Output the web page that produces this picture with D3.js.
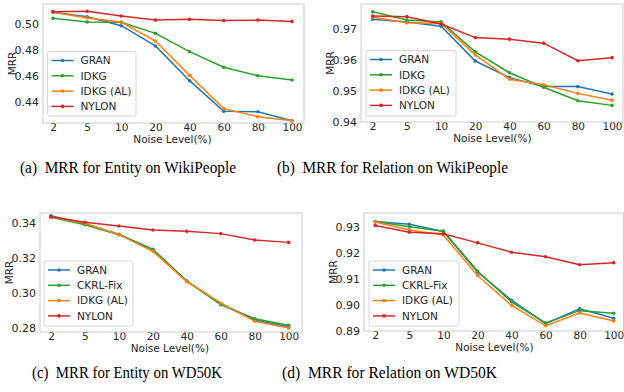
<!DOCTYPE html>
<html>
<head>
<meta charset="utf-8">
<script src="https://cdn.jsdelivr.net/npm/d3@7"></script>
<style>
  body { margin: 0; background: #fff; }
  svg { display: block; }
  .tick text { font-family: "DejaVu Sans", sans-serif; }
  .caption { white-space: pre; }
</style>
</head>
<body>
<div id="chart"></div>
<script>
// x categories shared by all four panels
const noiseLevels = ["2", "5", "10", "20", "40", "60", "80", "100"];

// (a) MRR for Entity on WikiPeople
const entWikiGRAN  = [0.5090, 0.5056, 0.4987, 0.4831, 0.4564, 0.4328, 0.4325, 0.4256];
const entWikiIDKG  = [0.5044, 0.5015, 0.5013, 0.4928, 0.4787, 0.4667, 0.4602, 0.4569];
const entWikiAL    = [0.5090, 0.5046, 0.5015, 0.4869, 0.4605, 0.4349, 0.4287, 0.4256];
const entWikiNYLON = [0.5095, 0.5098, 0.5062, 0.5030, 0.5036, 0.5026, 0.5030, 0.5020];

// (b) MRR for Relation on WikiPeople
const relWikiGRAN  = [0.9733, 0.9724, 0.9710, 0.9597, 0.9543, 0.9514, 0.9514, 0.9490];
const relWikiIDKG  = [0.9757, 0.9730, 0.9724, 0.9627, 0.9559, 0.9512, 0.9468, 0.9453];
const relWikiAL    = [0.9739, 0.9721, 0.9719, 0.9617, 0.9538, 0.9520, 0.9492, 0.9470];
const relWikiNYLON = [0.9743, 0.9741, 0.9717, 0.9673, 0.9668, 0.9655, 0.9598, 0.9608];

// (c) MRR for Entity on WD50K
const entWdGRAN  = [0.3443, 0.3396, 0.3337, 0.3249, 0.3070, 0.2939, 0.2847, 0.2809];
const entWdCKRL  = [0.3434, 0.3392, 0.3335, 0.3251, 0.3070, 0.2935, 0.2855, 0.2817];
const entWdAL    = [0.3436, 0.3400, 0.3335, 0.3240, 0.3066, 0.2945, 0.2840, 0.2802];
const entWdNYLON = [0.3438, 0.3406, 0.3385, 0.3362, 0.3354, 0.3341, 0.3305, 0.3291];

// (d) MRR for Relation on WD50K
const relWdGRAN  = [0.9320, 0.9309, 0.9282, 0.9126, 0.9018, 0.8928, 0.8985, 0.8949];
const relWdCKRL  = [0.9320, 0.9300, 0.9283, 0.9130, 0.9012, 0.8931, 0.8978, 0.8968];
const relWdAL    = [0.9318, 0.9287, 0.9268, 0.9113, 0.8998, 0.8920, 0.8969, 0.8938];
const relWdNYLON = [0.9305, 0.9279, 0.9273, 0.9238, 0.9202, 0.9185, 0.9154, 0.9162];

const blue = "#1f77b4", orange = "#ff7f0e", green = "#2ca02c", red = "#d62728";

// panel layout, pixel boxes
const panels = [
  { caption: "(a)  MRR for Entity on WikiPeople", capX: 20, capY: 173.3, capW: 216,
    box: [43, 4, 304, 123], xr: [53, 292], yd: [0.44, 0.50], yr: [102, 24],
    yticks: [0.44, 0.46, 0.48, 0.50], legend: [47.5, 51.5, 136, 116],
    series: [["GRAN", entWikiGRAN, blue], ["IDKG", entWikiIDKG, green],
             ["IDKG (AL)", entWikiAL, orange], ["NYLON", entWikiNYLON, red]] },
  { caption: "(b)  MRR for Relation on WikiPeople", capX: 277, capY: 173.3, capW: 231,
    box: [361, 4, 623, 122], xr: [372.7, 612], yd: [0.94, 0.97], yr: [121.7, 29.3],
    yticks: [0.94, 0.95, 0.96, 0.97], legend: [366, 50.5, 456, 116],
    series: [["GRAN", relWikiGRAN, blue], ["IDKG", relWikiIDKG, green],
             ["IDKG (AL)", relWikiAL, orange], ["NYLON", relWikiNYLON, red]] },
  { caption: "(c)  MRR for Entity on WD50K", capX: 32, capY: 378.3, capW: 190,
    box: [40, 213, 302, 332], xr: [51, 288.7], yd: [0.28, 0.34], yr: [328.3, 223.3],
    yticks: [0.28, 0.30, 0.32, 0.34], legend: [44, 261, 133, 326],
    series: [["GRAN", entWdGRAN, blue], ["CKRL-Fix", entWdCKRL, green],
             ["IDKG (AL)", entWdAL, orange], ["NYLON", entWdNYLON, red]] },
  { caption: "(d)  MRR for Relation on WD50K", capX: 282, capY: 378.3, capW: 215,
    box: [364, 213, 623.5, 331], xr: [375.3, 613.7], yd: [0.89, 0.93], yr: [331, 226.7],
    yticks: [0.89, 0.90, 0.91, 0.92, 0.93], legend: [369, 261, 459, 326],
    series: [["GRAN", relWdGRAN, blue], ["CKRL-Fix", relWdCKRL, green],
             ["IDKG (AL)", relWdAL, orange], ["NYLON", relWdNYLON, red]] }
];

const svg = d3.select("#chart").append("svg")
  .attr("width", 624).attr("height", 392);

const fs = 10.5;

panels.forEach(function(p) {
  const [l, t, r, b] = p.box;
  const x = d3.scalePoint().domain(noiseLevels).range(p.xr);
  const y = d3.scaleLinear().domain(p.yd).range(p.yr);
  const g = svg.append("g");

  // axes, no tick marks, labels only
  const xAxis = g.append("g")
    .attr("transform", "translate(0," + b + ")")
    .call(d3.axisBottom(x).tickSize(0).tickPadding(0.6));
  const yAxis = g.append("g")
    .attr("transform", "translate(" + l + ",0)")
    .call(d3.axisLeft(y).tickValues(p.yticks).tickFormat(d3.format(".2f")).tickSize(0).tickPadding(4));
  [xAxis, yAxis].forEach(function(a) {
    a.select(".domain").remove();
    a.selectAll("text").attr("font-size", fs).attr("fill", "#262626");
  });
  yAxis.selectAll("text").attr("font-size", 11);

  // frame
  g.append("rect")
    .attr("x", l).attr("y", t).attr("width", r - l).attr("height", b - t)
    .attr("fill", "none").attr("stroke", "#cccccc").attr("stroke-width", 1);

  // axis titles
  g.append("text")
    .attr("x", (p.xr[0] + p.xr[1]) / 2).attr("y", b + 19.8)
    .attr("text-anchor", "middle")
    .attr("font-family", "DejaVu Sans, sans-serif").attr("font-size", fs).attr("fill", "#262626")
    .text("Noise Level(%)");
  g.append("text")
    .attr("transform", "translate(" + (l - 27.5) + "," + ((t + b) / 2) + ") rotate(-90)")
    .attr("text-anchor", "middle")
    .attr("font-family", "DejaVu Sans, sans-serif").attr("font-size", fs).attr("fill", "#262626")
    .text("MRR");

  const line = d3.line()
    .x(function(d, i) { return x(noiseLevels[i]); })
    .y(function(d) { return y(d); });

  p.series.forEach(function(s) {
    g.append("path")
      .attr("d", line(s[1]))
      .attr("fill", "none").attr("stroke", s[2]).attr("stroke-width", 1.5);
    g.selectAll(null).data(s[1]).enter().append("circle")
      .attr("cx", function(d, i) { return x(noiseLevels[i]); })
      .attr("cy", function(d) { return y(d); })
      .attr("r", 1.8).attr("fill", s[2]);
  });

  // legend
  const [lx0, ly0, lx1, ly1] = p.legend;
  g.append("rect")
    .attr("x", lx0).attr("y", ly0).attr("width", lx1 - lx0).attr("height", ly1 - ly0)
    .attr("rx", 2).attr("fill", "#fff").attr("fill-opacity", 0.8)
    .attr("stroke", "#cccccc").attr("stroke-width", 0.8);
  p.series.forEach(function(s, i) {
    const yy = ly0 + 9 + i * 15.3;
    g.append("line")
      .attr("x1", lx0 + 4).attr("x2", lx0 + 26).attr("y1", yy).attr("y2", yy)
      .attr("stroke", s[2]).attr("stroke-width", 1.5);
    g.append("circle").attr("cx", lx0 + 15).attr("cy", yy).attr("r", 1.8).attr("fill", s[2]);
    g.append("text")
      .attr("x", lx0 + 33).attr("y", yy + 3.8)
      .attr("font-family", "DejaVu Sans, sans-serif").attr("font-size", fs).attr("fill", "#262626")
      .text(s[0]);
  });

  // caption, squeezed to the reference width (the original face is narrower)
  svg.append("text")
    .attr("class", "caption")
    .attr("x", p.capX).attr("y", p.capY)
    .attr("textLength", p.capW).attr("lengthAdjust", "spacingAndGlyphs")
    .attr("font-family", "Liberation Serif, serif").attr("font-size", 17.5).attr("fill", "#000")
    .text(p.caption);
});
</script>
</body>
</html>
